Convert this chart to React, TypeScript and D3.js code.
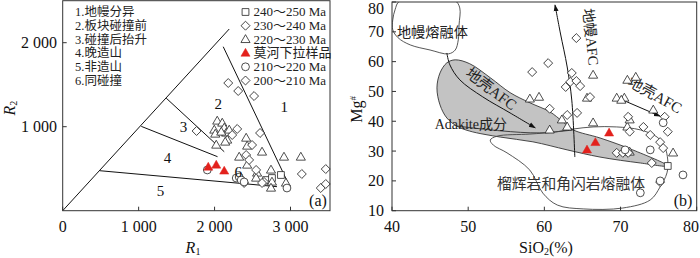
import React from "react";
import * as d3 from "d3";

// ---------------- data ----------------
const fieldNames = ["1.地幔分异", "2.板块碰撞前", "3.碰撞后抬升", "4.晚造山", "5.非造山", "6.同碰撞"];
const ageLabels = ["240～250 Ma", "230～240 Ma", "220～230 Ma", "莫河下拉样品", "210～220 Ma", "200～210 Ma"];
const ageKinds = ["square", "diamond", "triangle", "red", "circle", "diamond"];

const r1Ticks = [0, 1000, 2000, 3000];
const r2Ticks = [1000, 2000];
const sioTicks = [40, 50, 60, 70, 80];
const mgTicks = [10, 20, 30, 40, 50, 60, 70, 80];

// R1-R2 field boundaries
const rBoundaries: [number, number][][] = [
  [[0, 0], [2193, 2163]],
  [[2114, 1952], [2980, 306]],
  [[1363, 1340], [2127, 702]],
  [[1035, 1004], [2039, 643]],
  [[489, 476], [2822, 286]],
];
const rFieldLabels: [string, number, number][] = [
  ["1", 2916, 1234], ["2", 2048, 1270], ["3", 1590, 995],
  ["4", 1380, 627], ["5", 1288, 235], ["6", 2311, 461],
];

// R1-R2 samples
const rSquares: [number, number][] = [[2678, 365], [2756, 389], [2874, 425]];
const rDiamonds: [number, number][] = [
  [2180, 1520], [2311, 1425], [2520, 1365], [1763, 949], [2298, 973], [2232, 901],
  [2599, 925], [2494, 782], [2416, 663], [2455, 604], [2547, 485], [2652, 342],
  [2625, 330], [2389, 330], [3149, 437], [3464, 496], [3398, 270], [3464, 318],
];
const rTriangles: [number, number][] = [
  [2035, 1068], [1996, 961], [2009, 913], [2101, 1044], [2127, 985], [2153, 925],
  [2193, 961], [2166, 842], [2022, 782], [2088, 937], [2140, 818], [2416, 865],
  [2429, 770], [2625, 699], [2914, 639], [3136, 639], [2324, 639], [2429, 544],
  [2560, 449], [2743, 485], [2547, 389], [2756, 342], [2743, 270], [2940, 330],
];
const rCircles: [number, number][] = [[1904, 485], [2285, 389], [2324, 401], [2350, 365], [2389, 342], [2953, 270]];
const rRed: [number, number][] = [[1917, 520], [2022, 544], [2127, 473]];

// SiO2 - Mg# fields
const mantleMelt: [number, number][] = [
  [41.0, 80.3], [46.3, 80.4], [48.3, 80.4], [48.9, 78.0], [48.8, 72.3], [48.7, 67.3],
  [48.3, 63.9], [47.4, 62.6], [45.0, 63.9], [42.4, 65.6], [40.8, 68.0], [40.1, 70.7],
  [40.1, 74.0], [40.4, 77.4],
];
const adakiteField: [number, number][] = [
  [48.3, 60.6], [50.2, 59.3], [52.9, 54.6], [55.5, 49.6], [58.1, 46.2], [60.7, 43.2],
  [62.4, 39.9], [63.8, 37.1], [67.3, 34.4], [71.6, 30.4], [76.2, 25.0], [72.6, 26.0],
  [67.3, 28.0], [63.0, 30.4], [58.5, 33.1], [54.2, 34.7], [50.2, 36.7], [48.5, 38.4],
  [47.2, 41.1], [46.3, 45.5], [45.9, 51.2], [46.3, 56.2], [47.2, 59.6],
];
const adakiteInner: [number, number][] = [[48.5, 38.4], [54.2, 36.8], [59.4, 36.1], [63.8, 37.1]];
const eclogiteMelt: [number, number][] = [
  [63.8, 37.4], [66.4, 38.1], [69.5, 38.1], [72.6, 37.1], [74.8, 34.7], [75.8, 31.4],
  [76.2, 27.0], [76.1, 22.7], [75.2, 18.0], [73.9, 13.6], [70.3, 10.9], [65.1, 10.6],
  [61.7, 11.9], [59.8, 15.9], [58.1, 23.6], [55.1, 29.4], [53.3, 32.0], [52.9, 33.7],
  [53.8, 35.0], [58.1, 35.7], [61.4, 36.4],
];
const crustAfcLeft: [number, number][] = [[47.2, 62.9], [47.6, 58.9], [48.9, 53.9], [51.9, 48.2], [55.5, 42.8], [58.8, 37.8]];
const mantleAfc: [number, number][] = [[64.0, 28.0], [63.6, 47.1], [63.0, 58.2], [62.1, 69.6], [61.4, 79.0]];
const crustAfcRight: [number, number][] = [[70.3, 47.1], [75.2, 41.7]];

// SiO2 - Mg# samples
const mSquares: [number, number][] = [[76.2, 25.0]];
const mDiamonds: [number, number][] = [
  [64.2, 67.9], [58.4, 56.5], [60.5, 59.5], [63.6, 56.2], [63.4, 53.2], [64.2, 53.5],
  [64.7, 51.8], [62.8, 51.5], [66.0, 48.1], [60.7, 44.2], [63.0, 42.1], [64.3, 42.8],
  [71.0, 41.5], [75.8, 41.5], [73.0, 38.1], [73.9, 35.4], [75.2, 33.0], [75.6, 31.0],
  [76.2, 36.5], [71.2, 36.5], [69.5, 29.4], [70.3, 29.4], [71.0, 29.4], [74.1, 26.0],
  [75.2, 19.6],
];
const mTriangles: [number, number][] = [
  [59.3, 48.1], [58.1, 47.5], [66.4, 55.5], [70.9, 53.8], [72.0, 54.8], [65.6, 47.8],
  [69.5, 47.8], [70.5, 47.8], [70.1, 47.1], [62.3, 40.5], [66.4, 39.5], [60.7, 37.1],
  [63.0, 38.1], [70.9, 38.1], [71.2, 40.5], [74.3, 43.8], [76.9, 29.4], [71.2, 29.7],
];
const mCircles: [number, number][] = [[75.6, 39.5], [73.9, 30.4], [70.6, 30.4], [78.2, 22.0], [72.6, 16.0], [75.2, 20.0]];
const mRed: [number, number][] = [[65.6, 30.4], [66.7, 32.9], [68.5, 36.1]];

// ---------------- drawing ----------------
const SERIF = "'Times New Roman', 'Liberation Serif', 'Noto Sans CJK SC', serif";
const INK = "#222";
const RED = "#e3211c";

const symSquare = d3.symbol(d3.symbolSquare, 46)()!;
const symDiamond = d3.symbol(d3.symbolSquare, 40)()!;
const symTriangle = d3.symbol(d3.symbolTriangle, 36)()!;
const symCircle = d3.symbol(d3.symbolCircle, 48)()!;

function Marker({ kind, x, y }: { kind: string; x: number; y: number }) {
  if (kind === "diamond")
    return <path d={symDiamond} transform={`translate(${x},${y}) rotate(45)`} fill="white" stroke={INK} strokeWidth={0.8} />;
  if (kind === "square")
    return <path d={symSquare} transform={`translate(${x},${y})`} fill="white" stroke={INK} strokeWidth={0.8} />;
  if (kind === "circle")
    return <path d={symCircle} transform={`translate(${x},${y})`} fill="white" stroke={INK} strokeWidth={0.8} />;
  if (kind === "red")
    return <path d={symTriangle} transform={`translate(${x},${y + 0.5})`} fill={RED} stroke={RED} strokeWidth={0.5} />;
  return <path d={symTriangle} transform={`translate(${x},${y + 0.5})`} fill="white" stroke={INK} strokeWidth={0.8} />;
}

export default function App() {
  // left panel scales
  const xL = d3.scaleLinear().domain([0, 3520]).range([62.7, 330]);
  const yL = d3.scaleLinear().domain([0, 2500]).range([210.7, 0.7]);
  // right panel scales
  const xR = d3.scaleLinear().domain([40, 80]).range([392, 696.7]);
  const yR = d3.scaleLinear().domain([10, 80]).range([210.7, 2]);

  const lineL = d3.line<[number, number]>().x((d) => xL(d[0])).y((d) => yL(d[1]));
  const smoothR = d3.line<[number, number]>().x((d) => xR(d[0])).y((d) => yR(d[1])).curve(d3.curveCatmullRom.alpha(0.5));
  const closedR = d3.line<[number, number]>().x((d) => xR(d[0])).y((d) => yR(d[1])).curve(d3.curveCatmullRomClosed.alpha(0.5));

  const fmt = (v: number) => (v === 0 ? "0" : d3.format(",")(v).replace(",", " "));

  const legendY = (i: number) => 16.3 + i * 13.7;

  const panelSeries = (
    sets: [string, [number, number][]][],
    sx: (v: number) => number,
    sy: (v: number) => number
  ) =>
    sets.flatMap(([kind, pts], si) =>
      pts.map((p, i) => <Marker key={`${si}-${i}`} kind={kind} x={sx(p[0])} y={sy(p[1])} />)
    );

  return (
    <svg width={700} height={258} style={{ position: "absolute", left: 0, top: 0 }} fontFamily={SERIF}>
      <defs>
        <marker id="arr" viewBox="0 0 10 10" refX={9} refY={5} markerWidth={7} markerHeight={7} orient="auto">
          <path d="M0,1.5 L10,5 L0,8.5 z" fill="#111" />
        </marker>
        <clipPath id="clipR">
          <rect x={xR(40)} y={yR(80)} width={xR(80) - xR(40)} height={yR(10) - yR(80)} />
        </clipPath>
        <clipPath id="clipL">
          <rect x={xL(0)} y={yL(2500)} width={xL(3520) - xL(0)} height={yL(0) - yL(2500)} />
        </clipPath>
      </defs>
      <rect width={700} height={258} fill="white" />

      {/* ===== Left panel: R1-R2 ===== */}
      <g clipPath="url(#clipL)">
        {rBoundaries.map((seg, i) => (
          <path key={i} d={lineL(seg)!} fill="none" stroke="#111" strokeWidth={1} />
        ))}
      </g>
      {panelSeries(
        [["square", rSquares], ["triangle", rTriangles], ["diamond", rDiamonds], ["circle", rCircles], ["red", rRed]],
        xL, yL
      )}
      {rFieldLabels.map(([t, a, b]) => (
        <text key={t} x={xL(a)} y={yL(b)} fontSize={15} textAnchor="middle" dominantBaseline="central" fill="#111">{t}</text>
      ))}
      <rect x={xL(0)} y={yL(2500)} width={xL(3520) - xL(0)} height={yL(0) - yL(2500)} fill="none" stroke="#333" strokeWidth={1} />
      {r1Ticks.map((t) => (
        <g key={t}>
          <line x1={xL(t)} x2={xL(t)} y1={yL(0)} y2={yL(0) - 4} stroke="#333" />
          <text x={xL(t)} y={232} fontSize={16} textAnchor="middle" fill="#111">{fmt(t)}</text>
        </g>
      ))}
      {r2Ticks.map((t) => (
        <g key={t}>
          <line x1={xL(0)} x2={xL(0) + 4} y1={yL(t)} y2={yL(t)} stroke="#333" />
          <text x={57} y={yL(t)} fontSize={16} textAnchor="end" dominantBaseline="central" fill="#111">{fmt(t)}</text>
        </g>
      ))}
      <text x={193} y={253} fontSize={16} textAnchor="middle" fill="#111">
        <tspan fontStyle="italic">R</tspan>
        <tspan fontSize={10} dy={2}>1</tspan>
      </text>
      <text transform={`translate(15,${yL(1220)}) rotate(-90)`} fontSize={16} textAnchor="middle" fill="#111">
        <tspan fontStyle="italic">R</tspan>
        <tspan fontSize={10} dy={2}>2</tspan>
      </text>
      <text x={318} y={206} fontSize={16} textAnchor="middle" fill="#111">(a)</text>

      {/* left legend */}
      {fieldNames.map((n, i) => (
        <text key={n} x={75} y={legendY(i)} fontSize={12.5} fill="#222">{n}</text>
      ))}
      {ageLabels.map((n, i) => (
        <g key={n}>
          <Marker kind={ageKinds[i]} x={245.5} y={legendY(i) - 4.3} />
          <text x={253.5} y={legendY(i)} fontSize={13} fill="#222">{n}</text>
        </g>
      ))}

      {/* ===== Right panel: SiO2 - Mg# ===== */}
      <g clipPath="url(#clipR)">
        <path d={closedR(adakiteField)!} fill="#c3c3c3" stroke="#333" strokeWidth={0.9} />
        <path d={smoothR(adakiteInner)!} fill="none" stroke="#333" strokeWidth={0.9} />
        <path d={closedR(eclogiteMelt)!} fill="none" stroke="#444" strokeWidth={0.9} />
        <path d={closedR(mantleMelt)!} fill="white" stroke="#444" strokeWidth={0.9} />
        <path d={smoothR(crustAfcLeft)!} fill="none" stroke="#111" strokeWidth={1} markerEnd="url(#arr)" />
        <path d={smoothR(mantleAfc)!} fill="none" stroke="#111" strokeWidth={1} markerEnd="url(#arr)" />
        <path d={smoothR(crustAfcRight)!} fill="none" stroke="#111" strokeWidth={1} markerEnd="url(#arr)" />
      </g>
      <text x={xR(45.3)} y={yR(70)} fontSize={14.2} textAnchor="middle" dominantBaseline="central" fill="#222">地幔熔融体</text>
      <text x={xR(45.6)} y={129} fontSize={14} fill="#222">Adakite成分</text>
      <text x={xR(63.5)} y={yR(19)} fontSize={14.8} textAnchor="middle" dominantBaseline="central" fill="#333">榴辉岩和角闪岩熔融体</text>
      <text transform={`translate(${xR(53.0)},${yR(50.8)}) rotate(37)`} fontSize={15} textAnchor="middle" dominantBaseline="central" fill="#222">地壳AFC</text>
      <text transform={`translate(${xR(74.5)},${yR(48.8)}) rotate(29)`} fontSize={15} textAnchor="middle" dominantBaseline="central" fill="#222">地壳AFC</text>
      <text transform={`translate(${xR(66.1)},${yR(68.3)}) rotate(84)`} fontSize={14.5} textAnchor="middle" dominantBaseline="central" fill="#222">地幔AFC</text>

      {panelSeries(
        [["square", mSquares], ["triangle", mTriangles], ["diamond", mDiamonds], ["circle", mCircles], ["red", mRed]],
        xR, yR
      )}
      <rect x={xR(40)} y={yR(80)} width={xR(80) - xR(40)} height={yR(10) - yR(80)} fill="none" stroke="#333" strokeWidth={1} />
      {sioTicks.map((t, i) => {
        const last = i === sioTicks.length - 1;
        return (
          <g key={t}>
            <line x1={xR(t)} x2={xR(t)} y1={yR(10)} y2={yR(10) - 4} stroke="#333" />
            <text x={last ? 699 : xR(t)} y={232} fontSize={16} textAnchor={last ? "end" : "middle"} fill="#111">{t}</text>
          </g>
        );
      })}
      {mgTicks.map((t) => (
        <g key={t}>
          <line x1={xR(40)} x2={xR(40) + 4} y1={yR(t)} y2={yR(t)} stroke="#333" />
          <text x={384} y={Math.max(yR(t), 8)} fontSize={16} textAnchor="end" dominantBaseline="central" fill="#111">{t}</text>
        </g>
      ))}
      <text x={546} y={253} fontSize={16} textAnchor="middle" fill="#111">
        SiO<tspan fontSize={10} dy={2}>2</tspan><tspan dy={-2}>(%)</tspan>
      </text>
      <text transform={`translate(362,${yR(44)}) rotate(-90)`} fontSize={16} textAnchor="middle" fill="#111">
        Mg<tspan fontSize={9} dy={-6}>#</tspan>
      </text>
      <text x={683} y={206} fontSize={16} textAnchor="middle" fill="#111">(b)</text>
    </svg>
  );
}
